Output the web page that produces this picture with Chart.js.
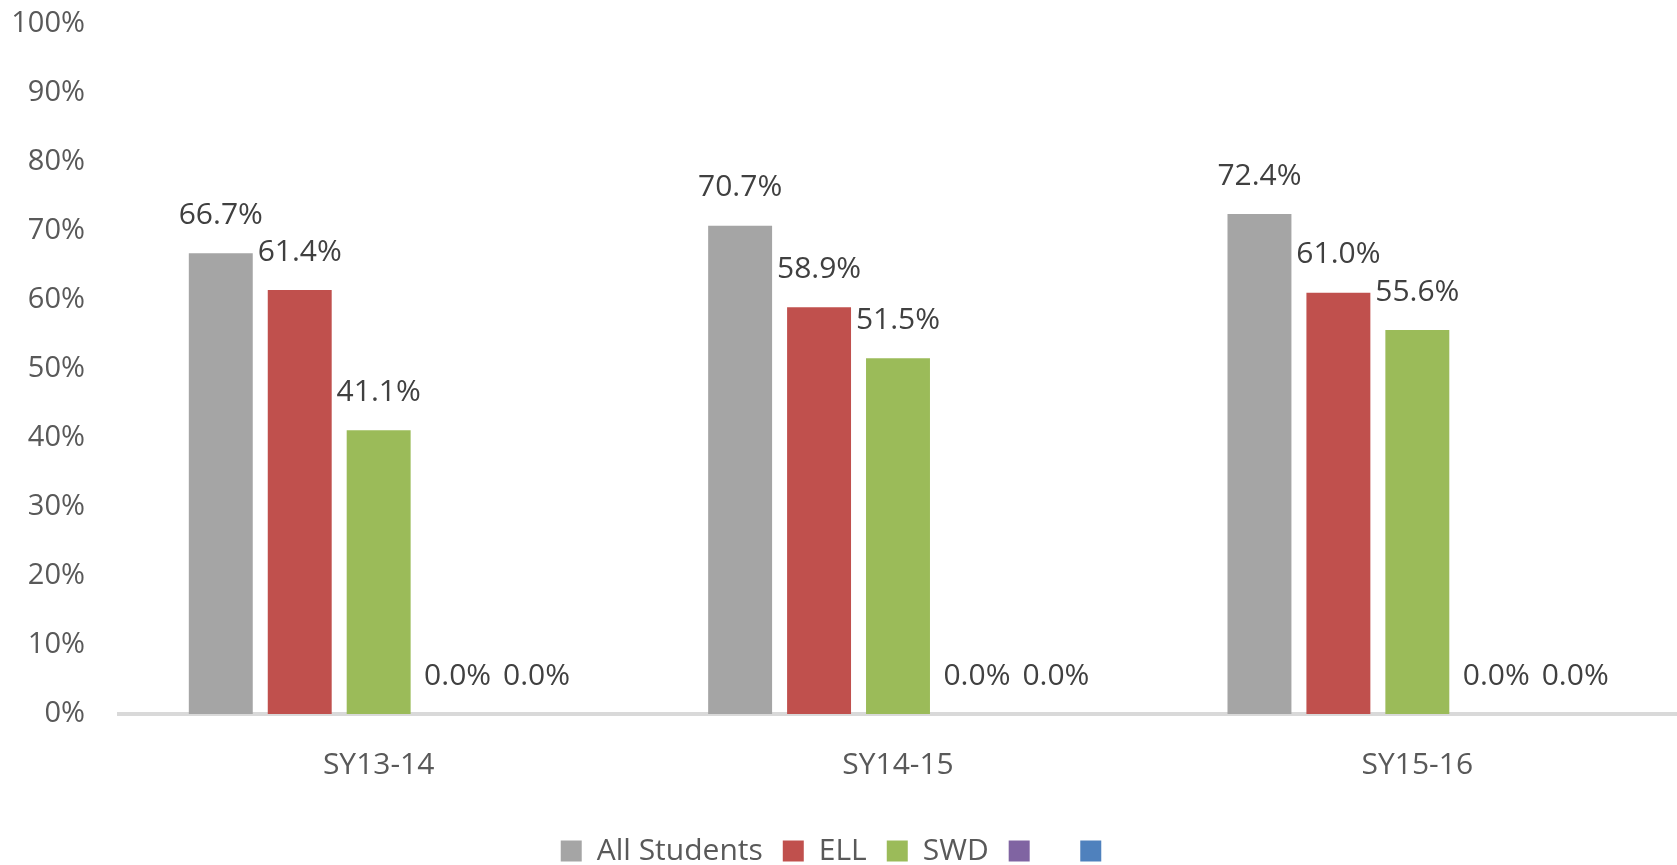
<!DOCTYPE html>
<html>
<head>
<meta charset="utf-8">
<script src="https://cdn.jsdelivr.net/npm/chart.js@4/dist/chart.umd.min.js"></script>
<style>
    body { margin: 0; background: #fff; }
    canvas { display: block; }
</style>
</head>
<body>
<canvas id="chart" width="1677" height="865"></canvas>
<script>
// valores
const years = ['SY13-14', 'SY14-15', 'SY15-16'];
const allStudents = [66.7, 70.7, 72.4];
const ell = [61.4, 58.9, 61.0];
const swd = [41.1, 51.5, 55.6];
const serie4 = [0, 0, 0];
const serie5 = [0, 0, 0];
const yTicks = [0, 10, 20, 30, 40, 50, 60, 70, 80, 90, 100];

const fontFamily = '"Open Sans", "Noto Sans", sans-serif';

// rotulos em cima de cada barra
const barLabels = {
    id: 'barLabels',
    afterDatasetsDraw(chart) {
        const ctx = chart.ctx;
        ctx.save();
        ctx.font = '30px ' + fontFamily;
        ctx.fillStyle = '#404040';
        ctx.textAlign = 'center';
        ctx.textBaseline = 'middle';
        chart.data.datasets.forEach((ds, i) => {
            const meta = chart.getDatasetMeta(i);
            meta.data.forEach((bar, j) => {
                ctx.fillText(ds.data[j].toFixed(1) + '%', bar.x, bar.y - 38);
            });
        });
        ctx.restore();
    }
};

const ctx = document.getElementById('chart').getContext('2d');
new Chart(ctx, {
    type: 'bar',
    data: {
        labels: years,
        datasets: [
            { label: 'All Students', data: allStudents, backgroundColor: '#A5A5A5' },
            { label: 'ELL', data: ell, backgroundColor: '#C0504D' },
            { label: 'SWD', data: swd, backgroundColor: '#9BBB59' },
            { label: '  ', data: serie4, backgroundColor: '#8064A2' },
            { label: '', data: serie5, backgroundColor: '#4F81BD' }
        ]
    },
    options: {
        responsive: false,
        animation: false,
        barPercentage: 0.81,
        categoryPercentage: 0.76,
        layout: {
            padding: { top: 0, right: 0, left: 0, bottom: -11 }
        },
        plugins: {
            legend: {
                position: 'bottom',
                labels: {
                    boxWidth: 21,
                    boxHeight: 21,
                    padding: 20,
                    color: '#595959',
                    font: { family: fontFamily, size: 30 }
                }
            },
            tooltip: { enabled: false }
        },
        scales: {
            y: {
                min: 0,
                max: 100,
                afterFit: (scale) => { scale.width = 119; },
                afterBuildTicks: (scale) => { scale.ticks = yTicks.map(v => ({ value: v })); },
                ticks: {
                    padding: 6,
                    color: '#595959',
                    font: { family: fontFamily, size: 29 },
                    callback: (v) => v + '%'
                },
                // tickLength so pra afastar os rotulos do eixo
                grid: { display: false, drawTicks: true, tickLength: 28 },
                border: { display: false }
            },
            x: {
                ticks: {
                    padding: 33,
                    color: '#595959',
                    font: { family: fontFamily, size: 30 }
                },
                grid: { display: false, drawTicks: false },
                border: { display: true, color: '#D9D9D9', width: 4 }
            }
        }
    },
    plugins: [barLabels]
});
</script>
</body>
</html>
